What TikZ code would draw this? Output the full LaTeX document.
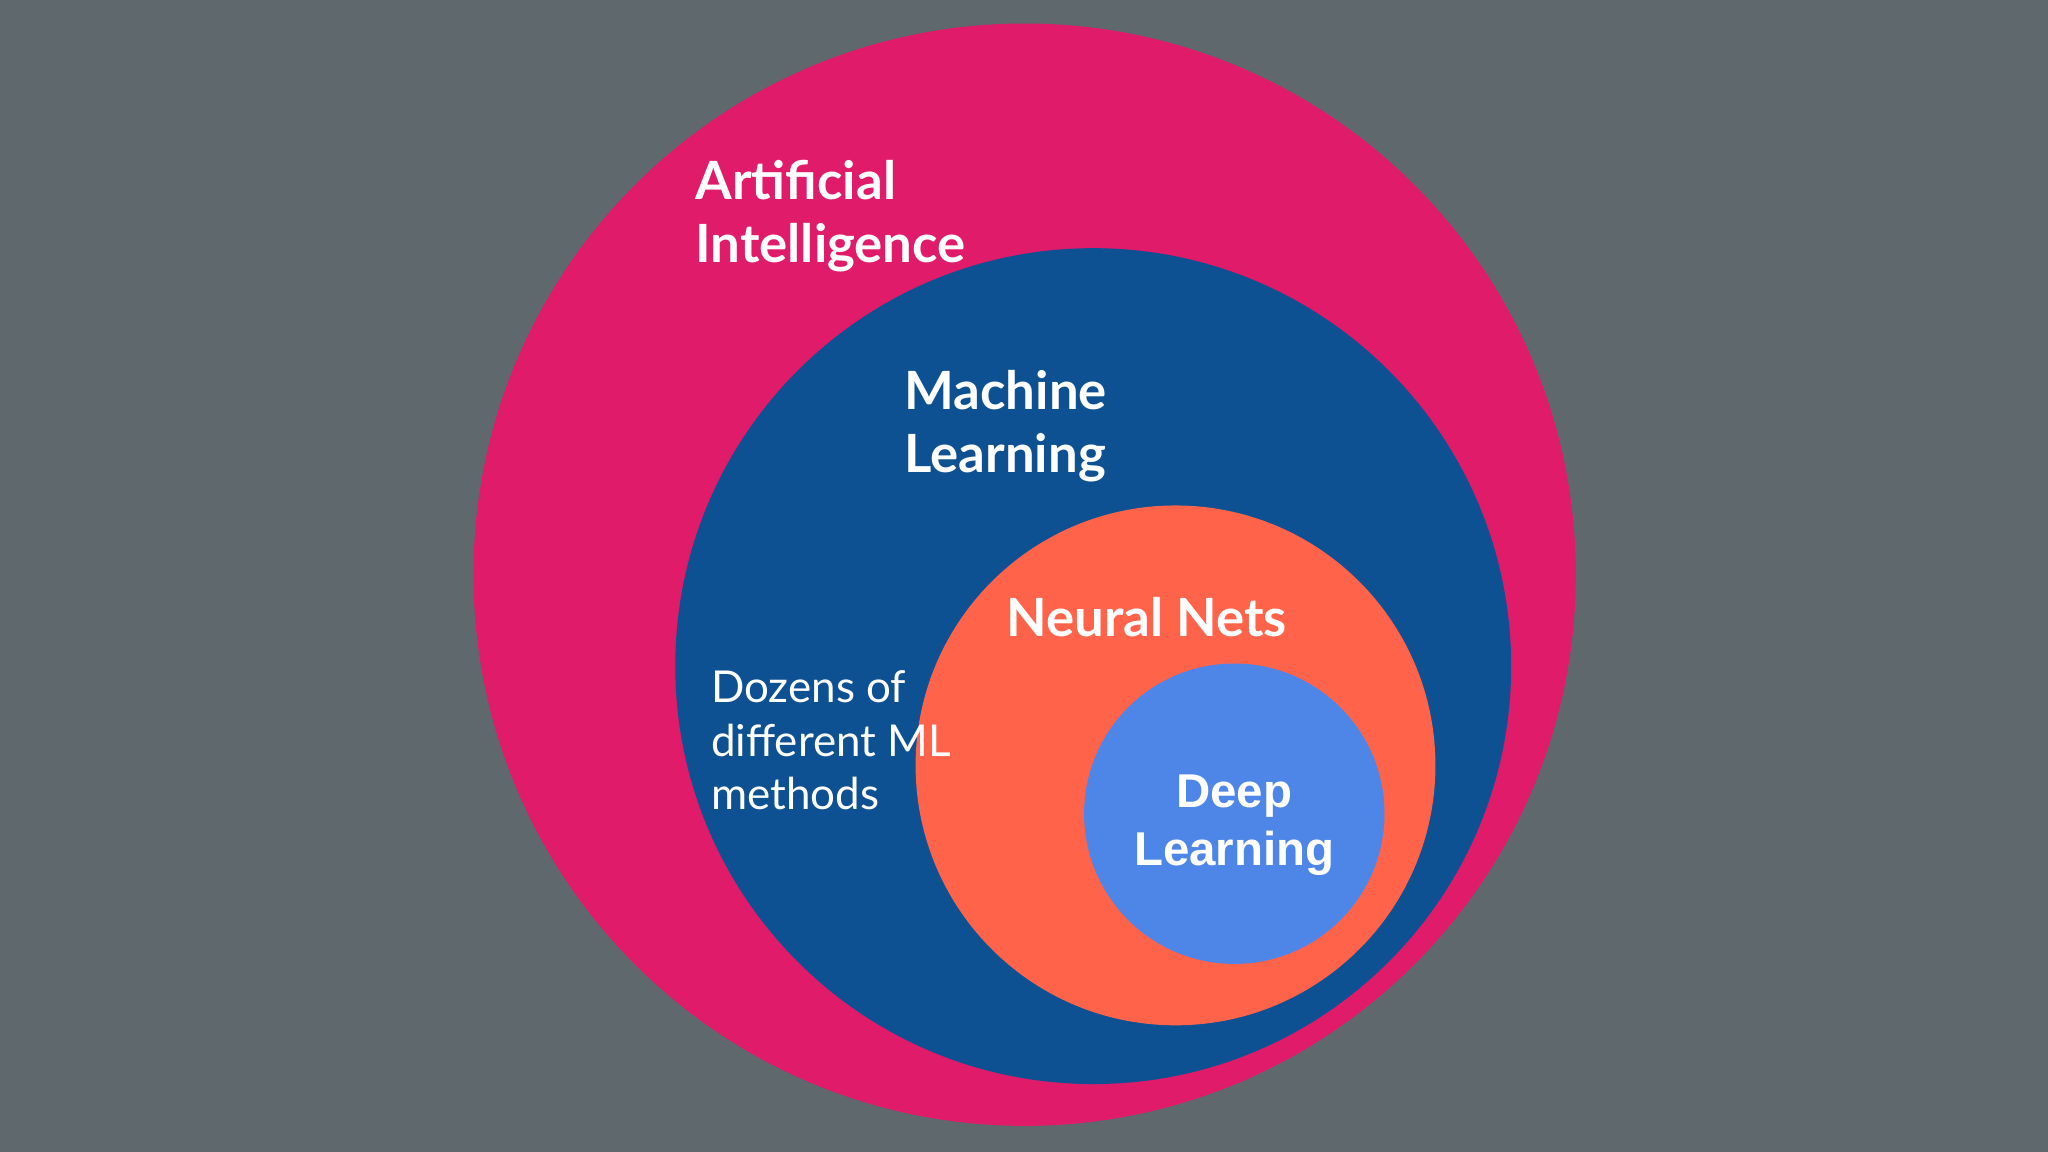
\documentclass[tikz,border=0pt]{standalone}
\usepackage{fontspec}
\setmainfont{Lato}
\newfontfamily\arialf{Liberation Sans}
\begin{document}
\begin{tikzpicture}[x=0.013061cm,y=-0.013061cm,
  lbl/.style={text=white,inner sep=0pt,align=left,font=\bfseries\fontsize{15}{18}\selectfont},
  circ/.style={draw=none,fill=#1}]
\definecolor{bg}{HTML}{5F686D}
\definecolor{aic}{HTML}{E01B6A}
\definecolor{mlc}{HTML}{0E5193}
\definecolor{nnc}{HTML}{FF634A}
\definecolor{dlc}{HTML}{4D86E6}
\fill[bg] (0,0) rectangle (1568,882);
\useasboundingbox (0,0) rectangle (1568,882);
\fill[aic] (784.5,440) circle (422);
\fill[mlc] (837,510) circle (320);
\fill[nnc] (900,586) circle (199);
\fill[dlc] (945,623) circle (115);
\node[lbl,anchor=north west] (ai) at (532,122) {Artificial\\Intelligence};
\node[lbl,anchor=north west] (ml) at (692,283) {Machine\\Learning};
\node[lbl,anchor=north] (nn) at (878,457) {Neural Nets};
\node[lbl,anchor=north west,font=\fontsize{12.5}{15.2}\selectfont] (dz) at (544,513) {Dozens of\\different ML\\methods};
\node[lbl,anchor=north,align=center,font=\arialf\bfseries\fontsize{13.5}{16.4}\selectfont] (dl) at (945,593) {Deep\\Learning};
\end{tikzpicture}
\end{document}
